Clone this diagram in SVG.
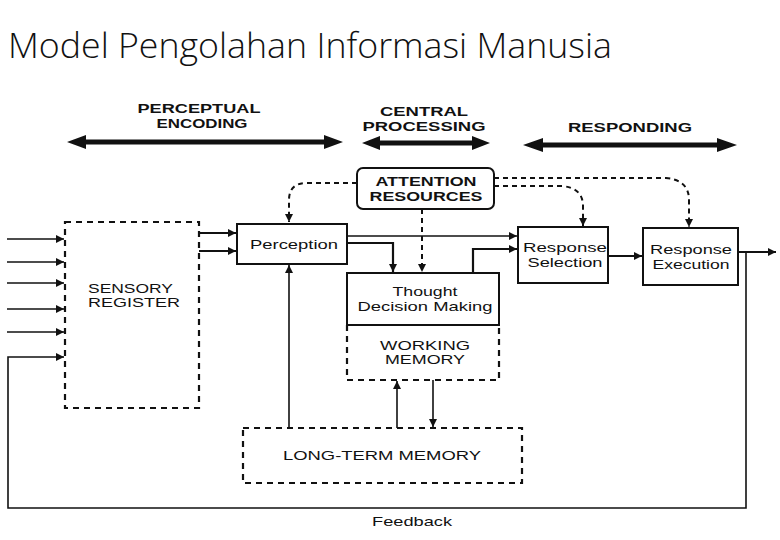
<svg xmlns="http://www.w3.org/2000/svg" width="780" height="540" viewBox="0 0 780 540">
<style>
.t{font-family:"Liberation Sans",Arial,sans-serif;fill:#111;}
.h{font-weight:bold;font-size:13.5px;text-anchor:middle;}
.n{font-size:13.5px;text-anchor:middle;}
.s{text-anchor:start;}
.box{fill:none;stroke:#111;stroke-width:2;}
.dbox{fill:none;stroke:#111;stroke-width:2.2;stroke-dasharray:6,5;}
.c{fill:none;stroke:#111;stroke-width:1.6;}
.ck{fill:none;stroke:#111;stroke-width:2.2;}
.d{fill:none;stroke:#111;stroke-width:2;stroke-dasharray:5,4;}
.big{fill:#111;}
</style>
<defs>
<marker id="a2" viewBox="0 0 10 10" refX="10" refY="5" markerWidth="14" markerHeight="8" markerUnits="userSpaceOnUse" orient="auto"><path d="M0,0 L10,5 L0,10 Z" fill="#111"/></marker>
</defs>
<rect width="780" height="540" fill="#fff"/>
<text x="8" y="58" font-family="Open Sans,Noto Sans,sans-serif" font-weight="300" font-size="34" fill="#111" textLength="604" lengthAdjust="spacingAndGlyphs">Model Pengolahan Informasi Manusia</text>

<g id="headers">
<text class="t h" x="199" y="113" textLength="123" lengthAdjust="spacingAndGlyphs">PERCEPTUAL</text>
<text class="t h" x="202" y="128" textLength="91" lengthAdjust="spacingAndGlyphs">ENCODING</text>
<text class="t h" x="424" y="116" textLength="88" lengthAdjust="spacingAndGlyphs">CENTRAL</text>
<text class="t h" x="424" y="131" textLength="123" lengthAdjust="spacingAndGlyphs">PROCESSING</text>
<text class="t h" x="630" y="132" textLength="124" lengthAdjust="spacingAndGlyphs">RESPONDING</text>
<path class="big" d="M67,142 L86,135 L86,139.5 L324,139.5 L324,135 L343,142 L324,149 L324,144.5 L86,144.5 L86,149 Z"/>
<path class="big" d="M362,143 L380,136 L380,140.5 L472,140.5 L472,136 L490,143 L472,150 L472,145.5 L380,145.5 L380,150 Z"/>
<path class="big" d="M523,145 L543,138 L543,142.5 L717,142.5 L717,138 L737,145 L717,152 L717,147.5 L543,147.5 L543,152 Z"/>
</g>

<g id="sensory">
<rect class="dbox" x="65" y="222" width="134" height="186"/>
<text class="t n s" x="88" y="293" textLength="85" lengthAdjust="spacingAndGlyphs">SENSORY</text>
<text class="t n s" x="88" y="307" textLength="92" lengthAdjust="spacingAndGlyphs">REGISTER</text>
</g>
<g id="perception">
<rect class="box" x="237" y="224" width="110" height="40"/>
<text class="t n" x="294" y="249" textLength="88" lengthAdjust="spacingAndGlyphs">Perception</text>
</g>
<g id="attention">
<rect class="box" x="357" y="168" width="137" height="41" rx="6"/>
<text class="t h" x="426" y="186" textLength="101" lengthAdjust="spacingAndGlyphs">ATTENTION</text>
<text class="t h" x="426" y="201" textLength="113" lengthAdjust="spacingAndGlyphs">RESOURCES</text>
</g>
<g id="thought">
<rect class="box" x="347" y="273" width="152" height="52"/>
<text class="t n" x="425" y="296" textLength="65" lengthAdjust="spacingAndGlyphs">Thought</text>
<text class="t n" x="425" y="311" textLength="135" lengthAdjust="spacingAndGlyphs">Decision Making</text>
</g>
<g id="working-memory">
<path class="dbox" d="M347,325 L347,380 L499,380 L499,325"/>
<text class="t n" x="425" y="350" textLength="90" lengthAdjust="spacingAndGlyphs">WORKING</text>
<text class="t n" x="425" y="364" textLength="80" lengthAdjust="spacingAndGlyphs">MEMORY</text>
</g>
<g id="response-selection">
<rect class="box" x="518" y="227" width="90" height="56"/>
<text class="t n" x="565" y="252" textLength="84" lengthAdjust="spacingAndGlyphs">Response</text>
<text class="t n" x="565" y="267" textLength="75" lengthAdjust="spacingAndGlyphs">Selection</text>
</g>
<g id="response-execution">
<rect class="box" x="643" y="228" width="95" height="57"/>
<text class="t n" x="691" y="254" textLength="82" lengthAdjust="spacingAndGlyphs">Response</text>
<text class="t n" x="691" y="269" textLength="77" lengthAdjust="spacingAndGlyphs">Execution</text>
</g>
<g id="ltm">
<rect class="dbox" x="243" y="428" width="279" height="55"/>
<text class="t n" x="382" y="460" textLength="198" lengthAdjust="spacingAndGlyphs">LONG-TERM MEMORY</text>
</g>
<text class="t n" x="412" y="526" textLength="80" lengthAdjust="spacingAndGlyphs">Feedback</text>

<g id="connectors">
<line class="c" x1="7" y1="239" x2="64" y2="239" marker-end="url(#a2)"/>
<line class="c" x1="7" y1="262" x2="64" y2="262" marker-end="url(#a2)"/>
<line class="c" x1="7" y1="283" x2="64" y2="283" marker-end="url(#a2)"/>
<line class="c" x1="7" y1="309" x2="64" y2="309" marker-end="url(#a2)"/>
<line class="c" x1="7" y1="332" x2="64" y2="332" marker-end="url(#a2)"/>
<line class="ck" x1="199" y1="233" x2="236" y2="233" marker-end="url(#a2)"/>
<line class="ck" x1="199" y1="251" x2="236" y2="251" marker-end="url(#a2)"/>
<line class="c" x1="347" y1="236" x2="517" y2="236" marker-end="url(#a2)"/>
<path class="ck" d="M347,243 L393,243 L393,272" marker-end="url(#a2)"/>
<path class="ck" d="M473,273 L473,249 L517,249" marker-end="url(#a2)"/>
<line class="ck" x1="608" y1="256" x2="642" y2="256" marker-end="url(#a2)"/>
<line class="ck" x1="738" y1="252" x2="776" y2="252" marker-end="url(#a2)"/>
<path class="c" d="M746,252 L746,508 L8,508 L8,357 L64,357" marker-end="url(#a2)"/>
<line class="c" x1="289" y1="428" x2="289" y2="265" marker-end="url(#a2)"/>
<line class="c" x1="397" y1="428" x2="397" y2="381" marker-end="url(#a2)"/>
<line class="c" x1="433" y1="380" x2="433" y2="427" marker-end="url(#a2)"/>
<path class="d" d="M357,183 L305,183 Q289,184 289,200 L289,222" marker-end="url(#a2)"/>
<line class="d" x1="422" y1="209" x2="422" y2="272" marker-end="url(#a2)"/>
<path class="d" d="M494,186 L562,186 Q583,188 583,206 L583,226" marker-end="url(#a2)"/>
<path class="d" d="M494,178 L666,178 Q689,180 689,200 L689,227" marker-end="url(#a2)"/>
</g>
</svg>
